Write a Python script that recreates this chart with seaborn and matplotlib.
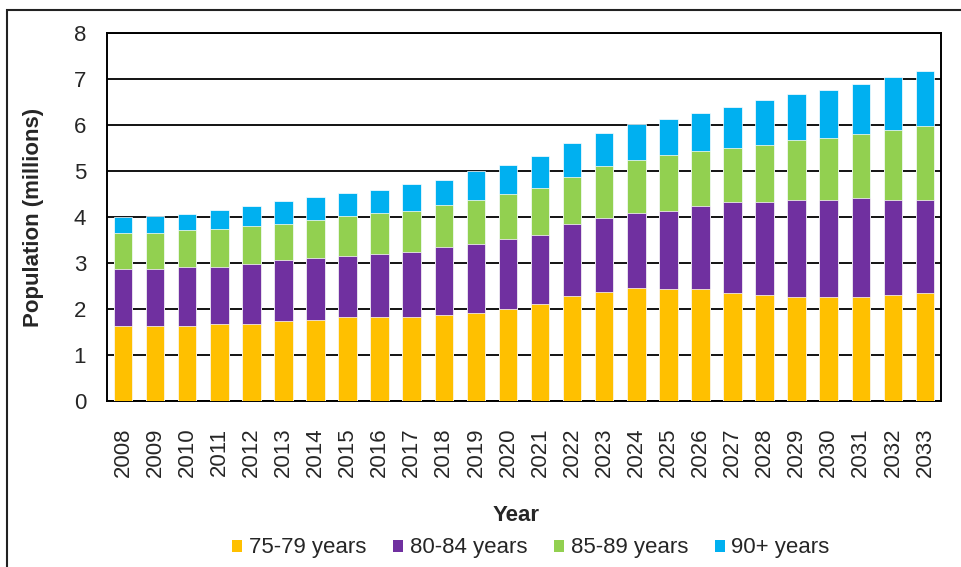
"""
Projected population aged 75+ by age band, 2008-2033 (stacked bars)
"""

import numpy as np
import pandas as pd
import matplotlib
matplotlib.use('Agg')
import matplotlib.pyplot as plt
import matplotlib.patches as mpatches
import seaborn as sns

# ---- data (millions) ----
years = [str(y) for y in range(2008, 2034)]
age_75_79 = [1.64, 1.64, 1.64, 1.68, 1.68, 1.73, 1.77, 1.82, 1.82, 1.82, 1.86, 1.91, 2.00,
             2.10, 2.28, 2.37, 2.46, 2.44, 2.44, 2.35, 2.30, 2.26, 2.26, 2.26, 2.30, 2.35]
age_80_84 = [1.23, 1.23, 1.28, 1.24, 1.29, 1.33, 1.33, 1.33, 1.37, 1.42, 1.48, 1.51, 1.52,
             1.51, 1.56, 1.61, 1.62, 1.70, 1.79, 1.98, 2.03, 2.11, 2.11, 2.16, 2.07, 2.02]
age_85_89 = [0.79, 0.79, 0.79, 0.83, 0.83, 0.79, 0.84, 0.87, 0.89, 0.88, 0.93, 0.94, 0.97,
             1.02, 1.02, 1.12, 1.15, 1.21, 1.21, 1.16, 1.24, 1.30, 1.34, 1.38, 1.53, 1.61]
age_90_plus = [0.33, 0.37, 0.36, 0.41, 0.45, 0.49, 0.50, 0.50, 0.50, 0.60, 0.54, 0.64, 0.64,
               0.69, 0.74, 0.73, 0.79, 0.77, 0.82, 0.91, 0.97, 1.00, 1.06, 1.10, 1.15, 1.20]

series_names = ['75-79 years', '80-84 years', '85-89 years', '90+ years']
colors = ['#FFC000', '#7030A0', '#92D050', '#00B0F0']

df = pd.DataFrame({'Year': years,
                   '75-79 years': age_75_79,
                   '80-84 years': age_80_84,
                   '85-89 years': age_85_89,
                   '90+ years': age_90_plus})

# cumulative totals for stacking
cum = df[series_names].cumsum(axis=1)
cum['Year'] = df['Year']

sns.set_style('white')
plt.rcParams['font.family'] = ['Liberation Sans', 'DejaVu Sans']

fig = plt.figure(figsize=(9.61, 5.67), dpi=100)
ax = fig.add_axes([107 / 961, 1 - 401 / 567, 834 / 961, 368 / 567])

# draw tallest layer first, then overlay lower layers
for name, color in reversed(list(zip(series_names, colors))):
    sns.barplot(data=cum, x='Year', y=name, order=years, color=color,
                width=0.58, edgecolor='white', linewidth=0.5,
                saturation=1, ax=ax, zorder=3)

ax.set_ylim(0, 8)
ax.set_xlim(-0.5, len(years) - 0.5)
ax.set_yticks(range(0, 9))
ax.yaxis.grid(True, color='black', linewidth=1.3, zorder=0)
ax.set_axisbelow(True)

# x ticks sit between categories, like the original
ax.set_xticks(range(len(years)))
ax.set_xticklabels(years, rotation=90, fontsize=16)
ax.set_xticks(np.arange(-0.5, len(years), 1), minor=True)
ax.tick_params(axis='x', which='major', length=0, pad=19)
ax.tick_params(axis='x', which='minor', length=5, width=1.3, color='black', direction='out')
ax.tick_params(axis='y', which='major', length=5, width=1.3, color='black',
               direction='out', labelsize=16, pad=10)

for side in ['left', 'right', 'top', 'bottom']:
    ax.spines[side].set_visible(True)
    ax.spines[side].set_color('black')
    ax.spines[side].set_linewidth(1.4)

ax.set_ylabel('Population (millions)', fontsize=16, fontweight='bold')
ax.yaxis.set_label_coords(-0.0755, 0.5)
ax.set_xlabel('Year', fontsize=16, fontweight='bold')
ax.xaxis.set_label_coords(0.49, -0.283)

# legend below the chart
handles = [mpatches.Patch(facecolor=c, edgecolor='none', label=n)
           for n, c in zip(series_names, colors)]
fig.legend(handles=handles, loc='center', bbox_to_anchor=(531 / 961, 1 - 548 / 567),
           ncol=4, frameon=False, fontsize=16, handlelength=0.45, handleheight=0.45,
           handletextpad=0.3, columnspacing=1.2)

# outer chart border
border = mpatches.Rectangle((7 / 961, -0.05), 1.0, 1 - 10 / 567 + 0.05,
                            transform=fig.transFigure, fill=False,
                            edgecolor='#222222', linewidth=1.5, clip_on=False)
fig.patches.append(border)

plt.savefig('out.png', dpi=100)
plt.close()
